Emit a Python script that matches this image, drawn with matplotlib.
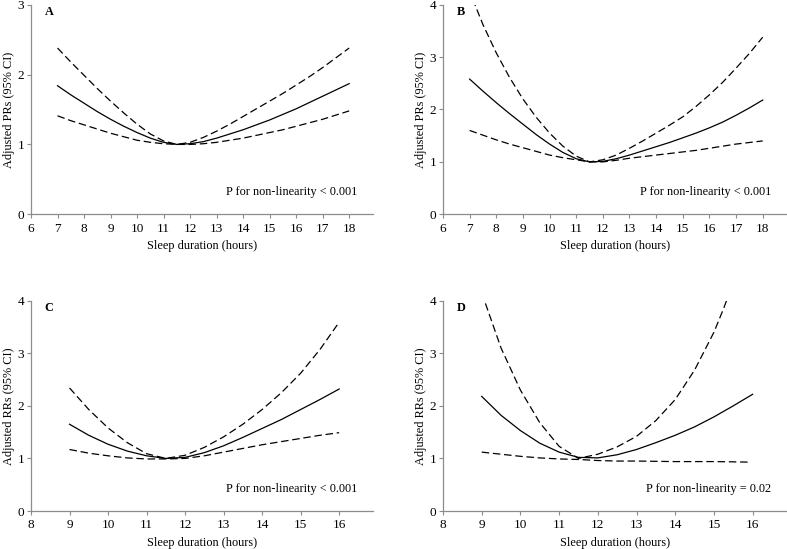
import matplotlib.pyplot as plt

plt.rcParams['font.family'] = ['Liberation Serif', 'DejaVu Serif']

# ---- data ----
hours_ab = [7, 7.5, 8, 8.5, 9, 9.5, 10, 10.5, 11, 11.5, 12, 12.5, 13, 13.5,
            14, 14.5, 15, 15.5, 16, 16.5, 17, 17.5, 18]
a_est = [1.84, 1.71, 1.59, 1.47, 1.36, 1.26, 1.17, 1.09, 1.03, 1.00, 1.01, 1.04,
         1.09, 1.15, 1.21, 1.28, 1.35, 1.43, 1.51, 1.60, 1.69, 1.78, 1.87]
a_up = [2.38, 2.18, 1.99, 1.80, 1.62, 1.45, 1.29, 1.15, 1.05, 1.00, 1.03, 1.10,
        1.19, 1.29, 1.40, 1.51, 1.62, 1.73, 1.85, 1.97, 2.10, 2.24, 2.38]
a_lo = [1.41, 1.34, 1.28, 1.22, 1.16, 1.11, 1.06, 1.03, 1.01, 1.00, 1.00, 1.01,
        1.03, 1.06, 1.09, 1.13, 1.17, 1.21, 1.26, 1.31, 1.36, 1.42, 1.48]

b_est = [2.58, 2.35, 2.13, 1.92, 1.72, 1.52, 1.34, 1.18, 1.06, 1.00, 1.01, 1.06,
         1.13, 1.21, 1.29, 1.37, 1.46, 1.55, 1.65, 1.76, 1.89, 2.03, 2.18]
b_up = [4.25, 3.62, 3.08, 2.61, 2.20, 1.85, 1.55, 1.30, 1.11, 1.00, 1.04, 1.13,
        1.26, 1.40, 1.55, 1.70, 1.86, 2.06, 2.28, 2.52, 2.79, 3.07, 3.38]
b_lo = [1.60, 1.51, 1.42, 1.34, 1.27, 1.20, 1.13, 1.08, 1.04, 1.00, 1.00, 1.03,
        1.07, 1.10, 1.13, 1.16, 1.19, 1.22, 1.26, 1.30, 1.34, 1.37, 1.40]

hours_cd = [9, 9.5, 10, 10.5, 11, 11.5, 12, 12.5, 13, 13.5, 14, 14.5, 15, 15.5, 16]
c_est = [1.65, 1.44, 1.27, 1.14, 1.05, 1.00, 1.02, 1.11, 1.24, 1.40, 1.57,
         1.74, 1.93, 2.12, 2.32]
c_up = [2.34, 1.93, 1.58, 1.30, 1.09, 1.00, 1.06, 1.21, 1.41, 1.65, 1.93,
        2.25, 2.62, 3.07, 3.59]
c_lo = [1.17, 1.10, 1.05, 1.01, 0.99, 0.99, 1.00, 1.05, 1.12, 1.19, 1.26,
        1.32, 1.38, 1.44, 1.49]

d_est = [2.18, 1.82, 1.53, 1.29, 1.12, 1.02, 1.01, 1.07, 1.17, 1.30, 1.44,
         1.60, 1.79, 2.00, 2.22]
d_up_x = [9, 9.5, 10, 10.5, 11, 11.5, 12, 12.5, 13, 13.5, 14, 14.5, 15, 15.25, 15.5]
d_up = [4.15, 3.10, 2.30, 1.68, 1.23, 1.00, 1.08, 1.22, 1.42, 1.72, 2.12,
        2.68, 3.40, 3.85, 4.35]
d_lo_x = [9, 9.5, 10, 10.5, 11, 11.5, 12, 12.5, 13, 13.5, 14, 14.5, 15, 15.5, 15.9]
d_lo = [1.12, 1.08, 1.04, 1.01, 0.99, 0.98, 0.96, 0.95, 0.95, 0.945, 0.94,
        0.94, 0.94, 0.935, 0.93]

panels = [
    ('A', 'Adjusted PRs (95% CI)', 'P for non-linearity < 0.001', (6, 18.9), range(6, 19), 3,
     hours_ab, a_est, hours_ab, a_up, hours_ab, a_lo),
    ('B', 'Adjusted PRs (95% CI)', 'P for non-linearity < 0.001', (6, 18.9), range(6, 19), 4,
     hours_ab, b_est, hours_ab, b_up, hours_ab, b_lo),
    ('C', 'Adjusted RRs (95% CI)', 'P for non-linearity < 0.001', (8, 16.88), range(8, 17), 4,
     hours_cd, c_est, hours_cd, c_up, hours_cd, c_lo),
    ('D', 'Adjusted RRs (95% CI)', 'P for non-linearity = 0.02', (8, 16.88), range(8, 17), 4,
     hours_cd, d_est, d_up_x, d_up, d_lo_x, d_lo),
]

rects = [
    [0.0394, 0.6097, 0.4346, 0.3817],
    [0.5629, 0.6097, 0.4367, 0.3817],
    [0.0394, 0.0692, 0.4346, 0.3831],
    [0.5629, 0.0692, 0.4367, 0.3831],
]

fig = plt.figure(figsize=(7.87, 5.49), dpi=100)
spine_col = '#8c8c8c'
fs = 8.8

for rect, p in zip(rects, panels):
    letter, ylab, ptxt, xlim, xt, ymax, xe, ye, xu, yu, xl, yl = p
    ax = fig.add_axes(rect)
    ax.plot(xe, ye, color='black', lw=0.9)
    ax.plot(xu, yu, color='black', lw=0.9, dashes=(6, 3))
    ax.plot(xl, yl, color='black', lw=0.9, dashes=(6, 3))
    ax.set_xlim(*xlim)
    ax.set_ylim(0, ymax)
    ax.set_xticks(list(xt))
    ax.set_yticks(range(0, ymax + 1))
    ax.spines['right'].set_visible(False)
    ax.spines['top'].set_visible(False)
    for s in ['left', 'bottom']:
        ax.spines[s].set_color(spine_col)
        ax.spines[s].set_linewidth(0.9)
    ax.tick_params(direction='out', length=3, width=0.8, color=spine_col,
                   labelsize=9.5)
    ax.tick_params(axis='x', pad=3)
    ax.tick_params(axis='y', pad=2)
    ax.set_xlabel('Sleep duration (hours)', fontsize=fs, labelpad=4)
    ax.set_ylabel(ylab, fontsize=fs, labelpad=2)
    ax.text(0.04, 0.965, letter, transform=ax.transAxes, fontsize=fs,
            fontweight='bold', va='center', ha='left')
    ax.text(0.955, 0.105, ptxt, transform=ax.transAxes, fontsize=fs,
            va='center', ha='right')

fig.savefig('out.png', dpi=100)
